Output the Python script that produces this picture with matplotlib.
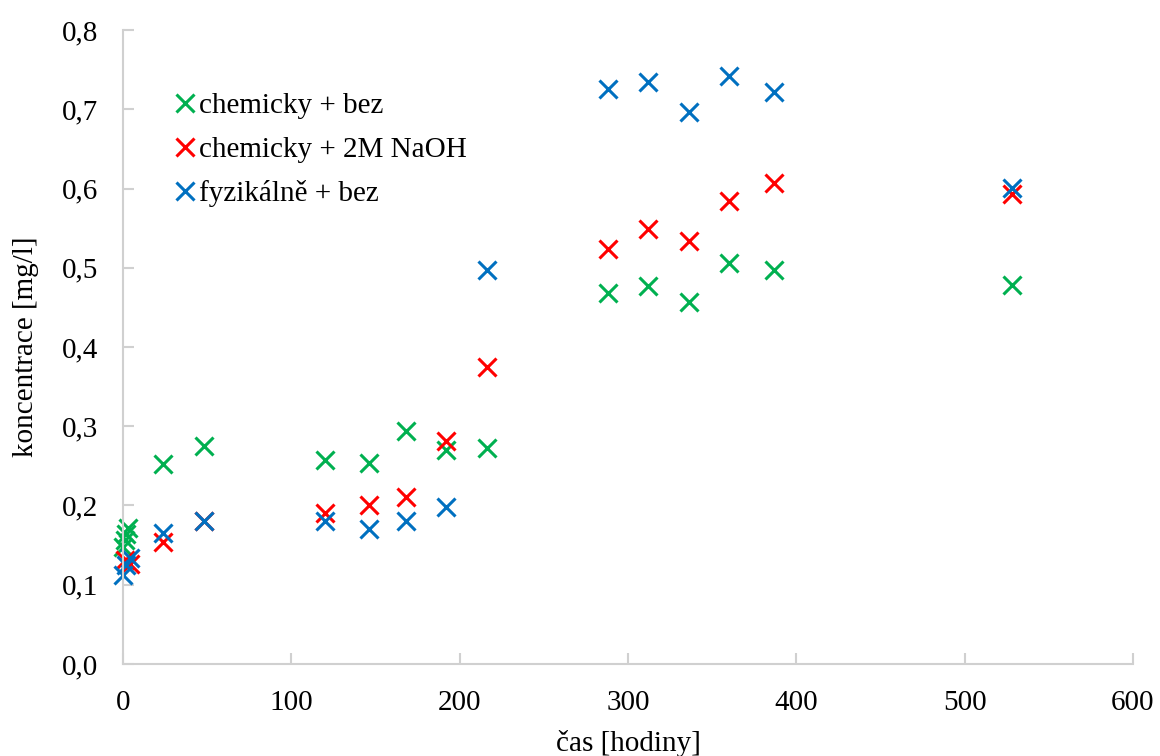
import matplotlib
matplotlib.use("Agg")
import matplotlib.pyplot as plt
from matplotlib.ticker import FuncFormatter, MultipleLocator

plt.rcParams['font.family'] = ['Liberation Serif', 'DejaVu Serif']

# sampling times [h] and measured concentrations [mg/l]
t_chem_bez = [0, 1, 2, 3, 24, 48, 120, 146, 168, 192, 216, 288, 312, 336, 360, 387, 528]
c_chem_bez = [0.148, 0.156, 0.164, 0.171, 0.252, 0.275, 0.257, 0.254, 0.294, 0.270,
              0.273, 0.468, 0.477, 0.457, 0.506, 0.497, 0.478]

t_chem_naoh = [1, 4, 24, 48, 120, 146, 168, 192, 216, 288, 312, 336, 360, 387, 528]
c_chem_naoh = [0.131, 0.126, 0.154, 0.180, 0.191, 0.200, 0.211, 0.282, 0.375,
               0.524, 0.549, 0.534, 0.584, 0.607, 0.593]

t_fyz_bez = [0, 2, 4, 24, 48, 120, 146, 168, 192, 216, 288, 312, 336, 360, 387, 528]
c_fyz_bez = [0.112, 0.125, 0.134, 0.165, 0.181, 0.180, 0.170, 0.181, 0.198, 0.497,
             0.725, 0.735, 0.697, 0.742, 0.722, 0.601]

series = [
    ("chemicky + bez", t_chem_bez, c_chem_bez, "#00B050"),
    ("chemicky + 2M NaOH", t_chem_naoh, c_chem_naoh, "#FF0000"),
    ("fyzikálně + bez", t_fyz_bez, c_fyz_bez, "#0070C0"),
]

FS = 21

fig = plt.figure(figsize=(11.6, 7.56), dpi=100)
ax = fig.add_axes([0.106, 0.1217, 0.8707, 0.8386])

for label, t, c, col in series:
    ax.plot(t, c, linestyle='none', marker='x', markersize=13,
            markeredgewidth=2.2, color=col, label=label, clip_on=False)

ax.set_xlim(0, 600)
ax.set_ylim(0, 0.8)
ax.xaxis.set_major_locator(MultipleLocator(100))
ax.yaxis.set_major_locator(MultipleLocator(0.1))
ax.yaxis.set_major_formatter(FuncFormatter(lambda v, p: f"{v:.1f}".replace('.', ',')))

for side in ('top', 'right'):
    ax.spines[side].set_visible(False)
for side in ('left', 'bottom'):
    ax.spines[side].set_color('#d0d0d0')
    ax.spines[side].set_linewidth(1.5)

ax.tick_params(axis='both', direction='in', length=8, width=1.5, color='#d0d0d0',
               labelsize=FS, labelcolor='black')
ax.tick_params(axis='x', pad=19)
ax.tick_params(axis='y', pad=18)

ax.set_xlabel("čas [hodiny]", fontsize=FS, labelpad=10)
ax.set_ylabel("koncentrace [mg/l]", fontsize=FS, labelpad=16)

leg = ax.legend(loc='upper left', bbox_to_anchor=(0.041, 0.92), frameon=False,
                fontsize=FS, handlelength=0.6, handletextpad=0.2,
                labelspacing=0.6, borderaxespad=0)

fig.savefig("out.png", dpi=100)
